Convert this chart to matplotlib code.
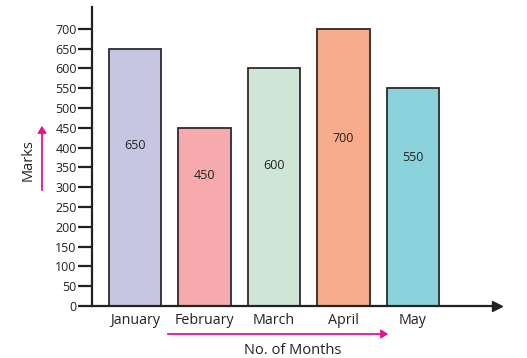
import numpy as np
import matplotlib.pyplot as plt

months = ['January', 'February', 'March', 'April', 'May']
marks = [650, 450, 600, 700, 550]
bar_colors = ['#c8c5e2', '#f6aaad', '#cfe6d6', '#f9ab8d', '#8ad3dd']
# vertical spot of the number inside each bar (data units)
label_y = [405, 330, 355, 422, 375]

plt.rcParams['font.family'] = ['Open Sans', 'DejaVu Sans']
txt = '#222222'

fig = plt.figure(figsize=(5.27, 3.58), dpi=100)
ax = fig.add_axes([92/527, 52/358, (497-92)/527, (306-7)/358])

x = np.arange(len(months))
ax.bar(x, marks, width=0.75, color=bar_colors, edgecolor='#2b2b2b', linewidth=1.3, zorder=2)
for xi, v, ly in zip(x, marks, label_y):
    ax.text(xi, ly, str(v), ha='center', va='center', fontsize=9, color=txt)

ax.set_xlim(-0.62, 5.21)
ax.set_ylim(0, 755)
ax.set_yticks(np.arange(0, 701, 50))
ax.set_xticks(x)
ax.set_xticklabels(months, fontsize=10.3, color=txt)
ax.tick_params(axis='y', length=10, width=1.6, color='#222222', labelsize=9, labelcolor=txt, pad=1)
ax.tick_params(axis='x', length=0, pad=5)

for s in ['top', 'right']:
    ax.spines[s].set_visible(False)
for s in ['left', 'bottom']:
    ax.spines[s].set_linewidth(1.6)
    ax.spines[s].set_color('#222222')
ax.spines['bottom'].set_bounds(-0.62, 5.15)
ax.plot(1, 0, '>', color='#222222', markersize=7, transform=ax.get_yaxis_transform(), clip_on=False)

# axis titles with pink arrows
fig.text(28/527, 1 - 160/358, 'Marks', rotation=90, ha='center', va='center', fontsize=10.5, color=txt)
fig.text(293/527, 1 - 350/358, 'No. of Months', ha='center', va='center', fontsize=10.5, color=txt)
pink = '#e8138d'
fig.patches.append(plt.matplotlib.patches.FancyArrowPatch(
    (42/527, 1 - 193/358), (42/527, 1 - 123/358), transform=fig.transFigure,
    arrowstyle='-|>,head_length=4,head_width=2.5', color=pink, linewidth=1.3))
fig.patches.append(plt.matplotlib.patches.FancyArrowPatch(
    (165/527, 1 - 334/358), (391/527, 1 - 334/358), transform=fig.transFigure,
    arrowstyle='-|>,head_length=4,head_width=2.5', color=pink, linewidth=1.3))

fig.savefig('out.png', dpi=100)
